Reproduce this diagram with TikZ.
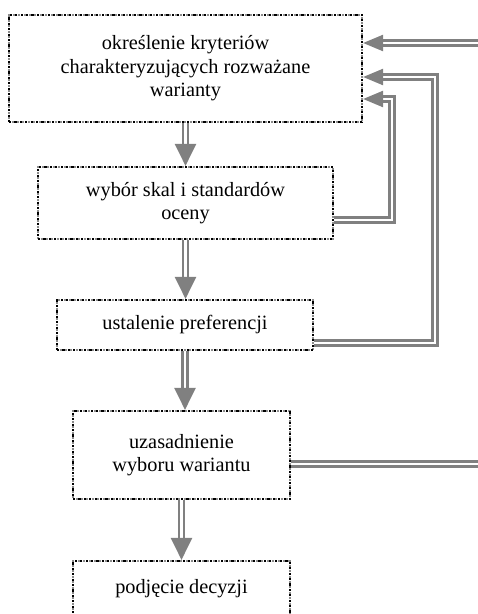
\documentclass[tikz,border=0pt]{standalone}
\usepackage{fontspec}
\setmainfont{Liberation Serif}
\usetikzlibrary{arrows.meta,calc}
\definecolor{ArrowClr}{rgb}{0.5,0.5,0.5}
\definecolor{FrameClr}{rgb}{0.55,0.55,0.55}

\begin{document}
\begin{tikzpicture}[x=1pt,y=-1pt,
  box/.style={draw=black,line width=2.2pt,dash pattern=on 2.2pt off 3.2pt,
    preaction={draw=FrameClr,line width=1.2pt,dash pattern=on 2pt off 3.4pt,dash phase=-2.6pt},
    inner sep=0pt,align=center,font=\fontsize{20.3}{23.5}\selectfont},
  link/.style={draw=ArrowClr,double=white,line width=2.4pt,double distance=2.6pt},
  down/.style={link,-{Triangle[length=22pt,width=21pt]}},
  back/.style={link,-{Triangle[length=20pt,width=16pt]}}]
\useasboundingbox (0,0) rectangle (478,614);

\node[box,minimum width=353pt,minimum height=107pt] (Kr) at (185.5,68.5) {określenie kryteriów\\charakteryzujących rozważane\\warianty};
\node[box,minimum width=295pt,minimum height=72pt] (Sk) at (185.5,203) {wybór skal i standardów\\oceny};
\node[box,minimum width=256pt,minimum height=50pt] (Pr) at (185,325) {ustalenie preferencji};
\node[box,minimum width=217pt,minimum height=88pt] (Uz) at (181.5,455) {uzasadnienie\\wyboru wariantu};
\node[box,minimum width=217pt,minimum height=56pt] (De) at (181.5,589) {podjęcie decyzji};

\coordinate (Ein) at (478,43);
\coordinate (Eout) at (478,464);

\draw[down] (Kr.south) -- (Sk.north);
\draw[down] (Sk.south) -- (Sk.south |- Pr.north);
\draw[down] (Pr.south) -- (Pr.south |- Uz.north);
\draw[down] (Uz.south) -- (De.north);

\draw[back] (Ein) -- (Ein -| Kr.east);
\draw[back] ($(Sk.east)+(0,17)$) -- (392,220) -- (392,99) -- ($(Kr.east)+(0,30.5)$);
\draw[back] ($(Pr.east)+(0,18)$) -- (435,343) -- (435,77) -- ($(Kr.east)+(0,8.5)$);
\draw[link] ($(Uz.east)+(0,9)$) -- (Eout);

\end{tikzpicture}
\end{document}
